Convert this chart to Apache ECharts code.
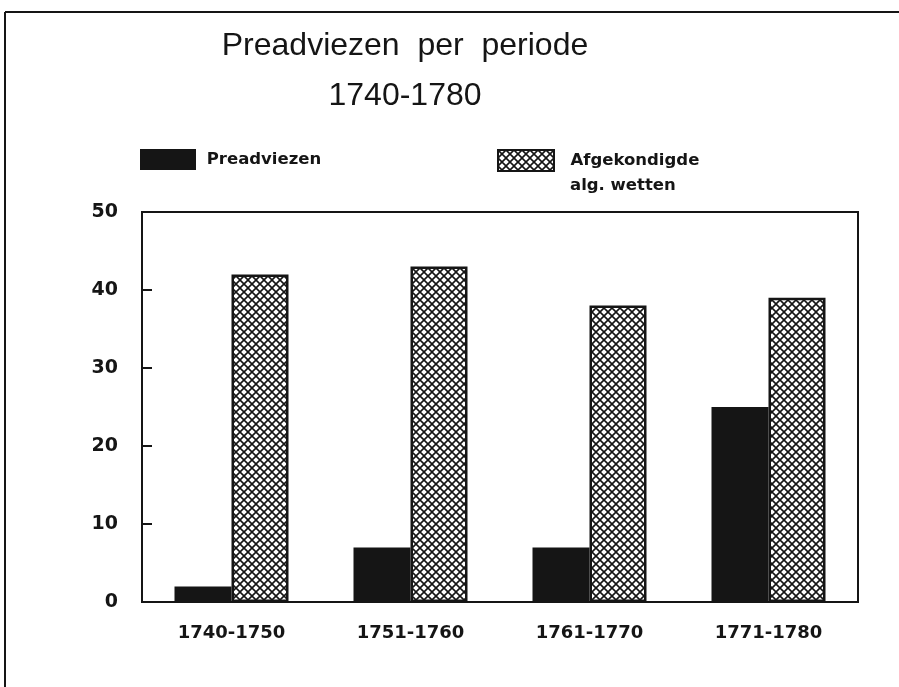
<!DOCTYPE html>
<html>
<head>
<meta charset="utf-8">
<script src="https://cdn.jsdelivr.net/npm/echarts@6/dist/echarts.min.js"></script>
<style>
  html, body { margin: 0; padding: 0; background: #fff; }
  #chart { width: 899px; height: 687px; }
</style>
</head>
<body>
<div id="chart"></div>
<script>
// periodes en waarden
var periodes = ['1740-1750', '1751-1760', '1761-1770', '1771-1780'];
var preadviezen = [2, 7, 7, 25];
var afgekondigd = [42, 43, 38, 39];
var yTicks = [0, 10, 20, 30, 40, 50];

// kruisarcering voor de tweede reeks
function maakArcering(){
	var c = document.createElement('canvas');
	c.width = 8; c.height = 8;
	var ctx = c.getContext('2d');
	ctx.fillStyle = '#fff';
	ctx.fillRect(0, 0, 8, 8);
	ctx.strokeStyle = '#151515';
	ctx.lineWidth = 1.6;
	ctx.beginPath();
	ctx.moveTo(0, 0); ctx.lineTo(8, 8);
	ctx.moveTo(8, 0); ctx.lineTo(0, 8);
	ctx.stroke();
	return c;
}
var arcering = { image: maakArcering(), repeat: 'repeat' };

var labelFont = {
	fontFamily: 'DejaVu Sans',
	fontWeight: 'bold',
	fontSize: 18,
	color: '#151515'
};
var legendFont = { fontFamily: 'DejaVu Sans', fontWeight: 'bold', fontSize: 16.5, color: '#151515' };

var chart = echarts.init(document.getElementById('chart'));
var option = {
	backgroundColor: '#fff',
	animation: false,
	title: {
		text: 'Preadviezen  per  periode\n1740-1780',
		left: 400,
		top: 16,
		textAlign: 'center',
		textStyle: {
			fontFamily: 'Liberation Sans',
			fontWeight: 'normal',
			fontSize: 32,
			lineHeight: 50,
			color: '#151515'
		}
	},
	legend: [
		{
			data: ['Preadviezen'],
			left: 135,
			top: 144,
			icon: 'rect',
			itemWidth: 56,
			itemHeight: 21,
			formatter: function(n){ return ' ' + n; },
			textStyle: legendFont
		},
		{
			data: ['Afgekondigde'],
			left: 492,
			top: 144,
			icon: 'rect',
			itemWidth: 56,
			itemHeight: 21,
			formatter: function(n){ return '  ' + n; },
			textStyle: legendFont
		}
	],
	grid: {
		left: 142,
		right: 41,
		top: 212,
		bottom: 85,
		show: true,
		borderColor: '#151515',
		borderWidth: 2
	},
	xAxis: {
		type: 'category',
		data: periodes,
		axisLine: { lineStyle: { color: '#151515', width: 2 } },
		axisTick: { show: false },
		axisLabel: Object.assign({ margin: 22 }, labelFont)
	},
	yAxis: {
		type: 'value',
		min: yTicks[0],
		max: yTicks[yTicks.length - 1],
		interval: 10,
		splitLine: { show: false },
		axisLine: { show: true, lineStyle: { color: '#151515', width: 2 } },
		axisTick: { show: true, inside: true, length: 10, lineStyle: { color: '#151515', width: 2 } },
		axisLabel: Object.assign({ margin: 24 }, labelFont, { fontSize: 19 })
	},
	series: [
		{
			name: 'Preadviezen',
			type: 'bar',
			barWidth: 57,
			barGap: '0%',
			itemStyle: { color: '#151515' },
			data: preadviezen
		},
		{
			name: 'Afgekondigde',
			type: 'bar',
			barWidth: 57,
			itemStyle: { color: arcering, borderColor: '#151515', borderWidth: 2.5 },
			data: afgekondigd
		}
	],
	graphic: [
		{ type: 'line', shape: { x1: 5, y1: 12, x2: 899, y2: 12 }, style: { stroke: '#151515', lineWidth: 2 } },
		{ type: 'line', shape: { x1: 5, y1: 12, x2: 5, y2: 687 }, style: { stroke: '#151515', lineWidth: 2 } },
		// tweede regel van het legendalabel
		{
			type: 'text', left: 570, top: 177,
			style: { text: 'alg. wetten', font: 'bold 16.5px "DejaVu Sans"', fill: '#151515' }
		}
	]
};
chart.setOption(option);
</script>
</body>
</html>
